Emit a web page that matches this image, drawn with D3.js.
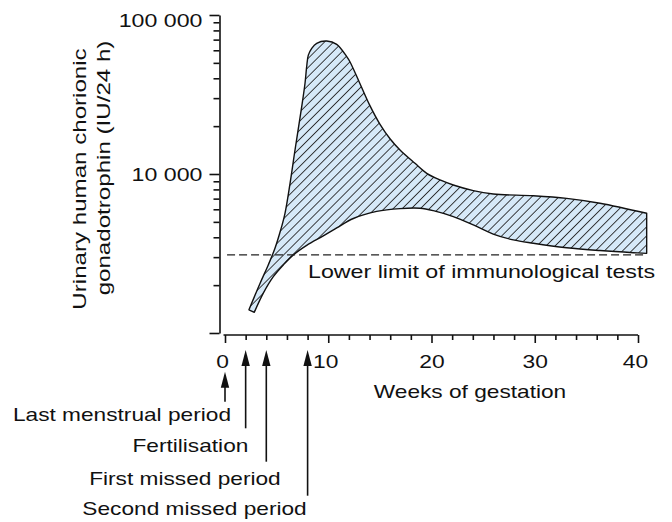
<!DOCTYPE html>
<html><head><meta charset="utf-8">
<script src="https://cdn.jsdelivr.net/npm/d3@7"></script>
<style>
body{margin:0;background:#fff}
svg text{font-family:"Liberation Sans",Arial,Helvetica,sans-serif;fill:#111}
</style>
</head><body><svg id="c" width="672" height="522"></svg>
<script>
// ---------- data ----------
const upperWeeks = [2.32, 3.39, 4.19, 4.84, 5.39, 5.81, 6.30, 6.78, 7.43, 7.75, 7.91, 8.07, 8.40, 8.88, 9.85, 10.82, 11.79, 12.1, 13, 14, 15, 16, 16.95, 18.4, 19.54, 20.82, 22.11, 24.05, 25.98, 29.86, 33.09, 36.32, 40.84];
const upperHCG   = [1400, 2050, 2680, 3410, 4440, 5660, 8740, 14160, 26500, 37200, 47300, 55900, 61750, 66400, 68600, 65400, 54700, 50800, 37900, 27200, 20600, 16600, 14160, 11670, 10100, 9170, 8530, 7860, 7480, 7300, 7030, 6550, 5660];
const lowerWeeks = [2.84, 3.71, 4.68, 5.65, 6.62, 7.91, 9.52, 10.82, 12.43, 14.69, 16.95, 18.89, 20.17, 22.11, 24.05, 25.98, 27.92, 29.86, 33.09, 36.32, 39.55, 40.84];
const lowerHCG   = [1350, 1780, 2260, 2680, 3100, 3560, 4080, 4580, 5250, 5820, 6060, 6090, 5880, 5390, 4780, 4190, 3850, 3670, 3440, 3300, 3200, 3170];
const testLimit = 3100;
const testLimitLabel = "Lower limit of immunological tests";
const yMajorTicks = [1000, 10000, 100000];
const yMajorLabels = ["", "10 000", "100 000"];
const yMinorTicks = [2000, 3000, 4000, 5000, 6000, 7000, 8000, 9000, 20000, 30000, 40000, 50000, 60000, 70000, 80000, 90000];
const xMajorTicks = [0, 10, 20, 30, 40];
const xMinorTicks = [2, 4, 6, 8, 12, 14, 16, 18, 22, 24, 26, 28, 32, 34, 36, 38];
const eventLabels = ["Last menstrual period", "Fertilisation", "First missed period", "Second missed period"];
const eventWeeks = [0, 2, 4, 8];
const xTitle = "Weeks of gestation";
const yTitleLines = ["Urinary human chorionic", "gonadotrophin (IU/24 h)"];

// ---------- layout ----------
const svg = d3.select("#c");
const x = d3.scaleLinear().domain([0, 40]).range([225, 638]);
const y = d3.scaleLog().domain([1000, 100000]).range([333, 15]);
const yAxisX = 219.5, xAxisY = 335;
const SX = 1.2;       // horizontal glyph stretch of tick labels
const SXT = 1.26;     // horizontal glyph stretch of other text

// hatch pattern
const defs = svg.append("defs");
const pat = defs.append("pattern").attr("id", "hatch")
  .attr("patternUnits", "userSpaceOnUse").attr("width", 6.4).attr("height", 10)
  .attr("patternTransform", "rotate(45)");
pat.append("rect").attr("width", 6.4).attr("height", 10).attr("fill", "#d6e9f8");
pat.append("line").attr("x1", 3.2).attr("x2", 3.2).attr("y1", -1).attr("y2", 11)
  .attr("stroke", "#222").attr("stroke-width", 0.9);

// band
const upper = upperWeeks.map((w, i) => [x(w), y(upperHCG[i])]);
const lower = lowerWeeks.map((w, i) => [x(w), y(lowerHCG[i])]).reverse();
const line = d3.line().curve(d3.curveCatmullRom.alpha(0.5));
const bandD = line(upper) + line(lower).replace(/^M/, "L") + "Z";
svg.append("path").attr("d", bandD).attr("fill", "url(#hatch)")
  .attr("stroke", "#111").attr("stroke-width", 1.4).attr("stroke-linejoin", "round");

// dashed limit line
svg.append("line")
  .attr("x1", x(0.2)).attr("x2", x(40.84))
  .attr("y1", y(testLimit)).attr("y2", y(testLimit))
  .attr("stroke", "#222").attr("stroke-width", 1.2).attr("stroke-dasharray", "8,4");
svg.append("text").attr("text-anchor", "start").attr("font-size", 18)
  .attr("transform", `translate(308,${y(testLimit) + 23}) scale(1.29,1)`)
  .text(testLimitLabel);

// y axis
const gyMinor = svg.append("g").attr("transform", `translate(${yAxisX},0)`)
  .call(d3.axisLeft(y).tickValues(yMinorTicks).tickSize(6).tickFormat(""));
gyMinor.select(".domain").remove();
const gy = svg.append("g").attr("transform", `translate(${yAxisX},0)`)
  .call(d3.axisLeft(y).tickValues(yMajorTicks).tickSize(10).tickSizeOuter(0).tickPadding(7)
    .tickFormat((d, i) => yMajorLabels[i]));
gy.selectAll(".tick text").attr("font-size", 19).attr("font-family", null)
  .attr("x", 0).attr("transform", "translate(-17,0) scale(1.22,1)")
  .attr("dy", d => d === 100000 ? "0.6em" : "0.34em");
[gy, gyMinor].forEach(g => {
  g.selectAll("line, path").attr("stroke", "#111").attr("stroke-width", 1.6);
});

// x axis
const gxMinor = svg.append("g").attr("transform", `translate(0,${xAxisY})`)
  .call(d3.axisBottom(x).tickValues(xMinorTicks).tickSize(5).tickFormat(""));
gxMinor.select(".domain").remove();
const gx = svg.append("g").attr("transform", `translate(0,${xAxisY})`)
  .call(d3.axisBottom(x).tickValues(xMajorTicks).tickSize(8).tickSizeOuter(0).tickPadding(12));
gx.selectAll(".tick text").attr("font-size", 19).attr("font-family", null)
  .attr("transform", d => `translate(${d === 0 ? -3 : d === 10 ? -3 : d === 40 ? -3 : 0},0) scale(${SX},1)`);
[gx, gxMinor].forEach(g => {
  g.selectAll("line, path").attr("stroke", "#111").attr("stroke-width", 1.6);
});
gx.select(".domain").attr("d", `M${x(0) - 1.5},0H${x(40)}`);

// axis titles
svg.append("text").attr("text-anchor", "middle").attr("font-size", 18)
  .attr("transform", `translate(470,398) scale(${SXT},1)`).text(xTitle);
const yTitlePos = [[85.5, 179], [109.5, 168]];
yTitleLines.forEach((t, i) => {
  svg.append("text").attr("text-anchor", "middle").attr("font-size", 19)
    .attr("transform", `translate(${yTitlePos[i][0]},${yTitlePos[i][1]}) rotate(-90) scale(1.27,1)`)
    .text(t);
});

// event arrows
const arrowTipY = [371.7, 350, 350, 350];
const arrowTailY = [401.7, 428.3, 461.7, 495.7];
const labelBaseY = [421, 452, 485, 515];
const labelEndDx = [6, 2.7, 14.4, -0.9];
eventWeeks.forEach((w, i) => {
  const ax = x(w);
  const tip = arrowTipY[i];
  svg.append("line").attr("x1", ax).attr("x2", ax).attr("y1", tip + 10).attr("y2", arrowTailY[i])
    .attr("stroke", "#111").attr("stroke-width", 1.6);
  svg.append("path").attr("d", `M${ax},${tip}L${ax + 4.2},${tip + 16}L${ax - 4.2},${tip + 16}Z`)
    .attr("fill", "#111");
  svg.append("text").attr("text-anchor", "end").attr("font-size", 18)
    .attr("transform", `translate(${ax + labelEndDx[i]},${labelBaseY[i]}) scale(${SXT},1)`)
    .text(eventLabels[i]);
});
</script>
</body></html>
